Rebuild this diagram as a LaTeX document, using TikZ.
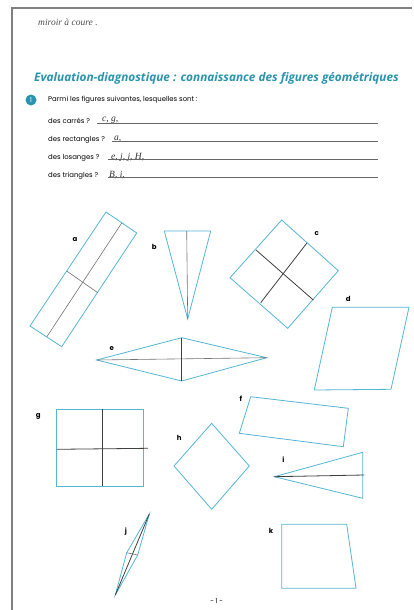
\documentclass[tikz,border=0pt]{standalone}
\usepackage{fontspec}
\setmainfont{Poppins}
\newfontfamily\titlefont{Open Sans}
\newfontfamily\handfont{Liberation Serif}
\usepackage{xcolor}
\usepackage{tikz}
\usetikzlibrary{positioning}

\definecolor{figblue}{HTML}{55B6D3}
\definecolor{titleteal}{HTML}{2A94AE}

\begin{document}
\begin{tikzpicture}[
    x=1pt, y=-1pt,
    fig/.style={draw=figblue, line width=0.8pt, line join=miter},
    fold/.style={draw=black!55, line width=0.6pt},
    foldd/.style={draw=black!75, line width=0.8pt},
    lab/.style={font=\fontsize{7}{8}\selectfont\bfseries, inner sep=0pt},
    question/.style={font=\fontsize{6.9}{7}\selectfont, inner sep=0pt, anchor=west},
    answer/.style={font=\handfont\itshape\fontsize{9.5}{9}\selectfont, inner sep=0pt, anchor=west, text=black!80},
    rule/.style={draw=black!60, line width=0.4pt}
  ]
    \useasboundingbox[fill=white] (0,0) rectangle (414,610);
    % page frame
    \draw[black!50, line width=1.6pt] (12,610) -- (12,8) -- (412,8);

    % header
    \node[answer, text=black!70] (note) at (38,22) {miroir à coure .};
    \node[font=\titlefont\bfseries\itshape\fontsize{11.8}{13}\selectfont, text=titleteal, inner sep=0pt, anchor=west] (title) at (34,78) {Evaluation-diagnostique : connaissance des figures géométriques};

    % question 1
    \node[circle, fill=titleteal, minimum size=11pt, inner sep=0pt, text=white, font=\fontsize{6.5}{7}\selectfont] (num) at (31,100) {1};
    \node[question] (q0) at (48,100) {Parmi les figures suivantes, lesquelles sont :};
    \node[question] (q1) at (48,121) {des carrés ?};
    \node[question] (q2) at (48,139.5) {des rectangles ?};
    \node[question] (q3) at (48,158) {des losanges ?};
    \node[question] (q4) at (48,176) {des triangles ?};
    \node[answer] (a1) at (102,120) {c, g,};
    \node[answer] (a2) at (114,138.5) {a,};
    \node[answer] (a3) at (111,157) {e, j, j, H,};
    \node[answer] (a4) at (109,175) {B, i,};
    \draw[rule] (97,123) -- (378,123);
    \draw[rule] (112,141) -- (378,141);
    \draw[rule] (108,159.5) -- (378,159.5);
    \draw[rule] (108,177.5) -- (378,177.5);

    % a : rectangle
    \draw[fig] (106,212) -- (136.7,233) -- (61.7,346.7) -- (30,326) -- cycle;
    \draw[fold] (121.7,223) -- (46.7,337);
    \draw[fold] (66.7,271) -- (97.7,292.7);
    \node[lab] (la) at (75,239.5) {a};

    % b : triangle
    \draw[fig] (164.3,231) -- (210.7,231) -- (187.7,319) -- cycle;
    \draw[fold] (186.7,231) -- (187.7,319);
    \node[lab] (lb) at (154.3,246.7) {b};

    % c : square
    \draw[fig] (281.7,220) -- (338.3,270.7) -- (287.7,328.3) -- (230,277.7) -- cycle;
    \draw[foldd] (256,250) -- (313.3,300);
    \draw[foldd] (306.7,243.3) -- (260.7,302.7);
    \node[lab] (lc) at (316.7,233.3) {c};

    % d : parallelogram
    \draw[fig] (332.3,307.3) -- (409,307.3) -- (391,389.3) -- (314.3,390) -- cycle;
    \node[lab] (ld) at (348.3,299) {d};

    % e : rhombus
    \draw[fig] (96.7,360) -- (181.7,337.7) -- (266.7,357.7) -- (181.7,381) -- cycle;
    \draw[fold] (96.7,360) -- (266.7,357.7);
    \draw[foldd] (181.7,337.7) -- (181.7,381);
    \node[lab] (le) at (111.7,348.3) {e};

    % f : rectangle
    \draw[fig] (250.7,396.7) -- (348.3,408.3) -- (343.3,446.7) -- (239.3,433.3) -- cycle;
    \node[lab] (lf) at (241,399) {f};

    % g : square
    \draw[fig] (56.7,409.3) rectangle (143.3,486);
    \draw[foldd] (102.7,409.3) -- (102.7,486);
    \draw[foldd] (56.7,449.3) -- (148,448.3);
    \node[lab] (lg) at (38.3,416.7) {g};

    % h : square on its corner
    \draw[fig] (211.7,423.3) -- (249.3,466) -- (211.7,509.3) -- (174,466) -- cycle;
    \node[lab] (lh) at (179.3,438.3) {h};

    % i : triangle
    \draw[fig] (274.3,476.7) -- (362.7,452.3) -- (362.7,498.3) -- cycle;
    \draw[foldd] (274.3,476.7) -- (364,475);
    \node[lab] (li) at (283.3,459.3) {i};

    % j : thin rhombus
    \draw[fig] (149.3,514) -- (137.7,555) -- (115.3,595) -- (126.7,552.7) -- cycle;
    \draw[foldd] (149.3,514) -- (115.3,595);
    \draw[fold] (126.7,552.7) -- (137.7,555);
    \node[lab] (lj) at (126,531.7) {j};

    % k : trapezoid
    \draw[fig] (281.7,524.3) -- (346.7,524.3) -- (356,588.3) -- (281.7,588.3) -- cycle;
    \node[lab] (lk) at (271,531) {k};

    % page number
    \node[font=\fontsize{6.5}{7}\selectfont, inner sep=0pt] (page) at (216.7,601) {- 1 -};
  \end{tikzpicture}
\end{document}
